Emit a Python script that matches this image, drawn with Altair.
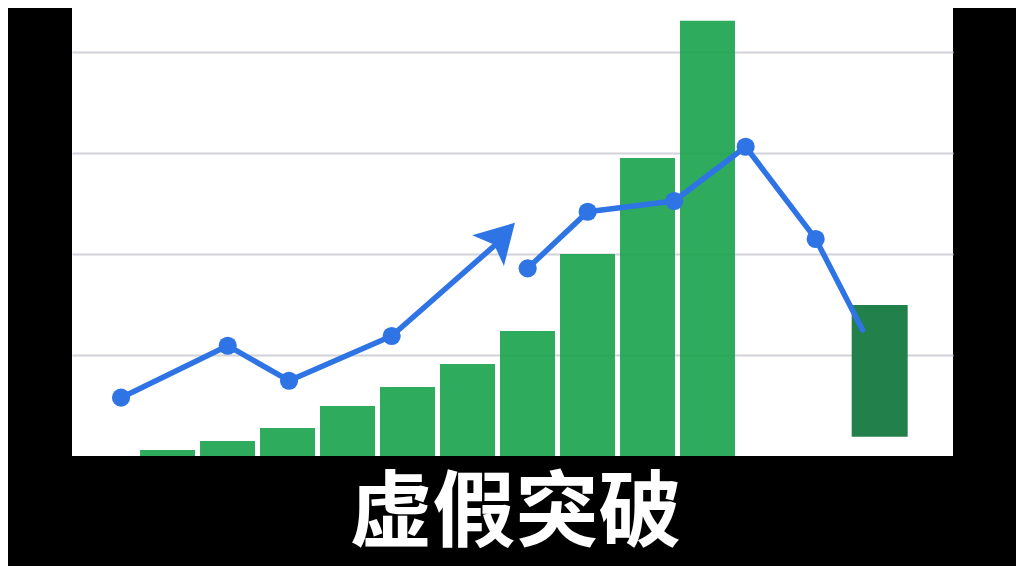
import altair as alt
import pandas as pd

# ---- data ----
bar_x = [1, 2, 3, 4, 5, 6, 7, 8, 9, 10]
bar_h = [0.059, 0.149, 0.278, 0.496, 0.684, 0.912, 1.239, 2.002, 2.953, 4.314]

drop_x = [12.87]
drop_lo = [0.191]
drop_hi = [1.497]

line_x = [0.225, 2.003, 3.025, 4.736, 6.65, 7.003, 8.003, 9.446, 10.636, 11.803, 12.586]
line_y = [0.578, 1.093, 0.746, 1.189, 2.19, 1.860, 2.421, 2.527, 3.065, 2.151, 1.249]
line_seg = ["a", "a", "a", "a", "a", "b", "b", "b", "b", "b", "b"]
line_dot = [True, True, True, True, False, True, True, True, True, True, False]

arrow_x = [6.791]
arrow_y = [2.312]

grid_vals = [1, 2, 3, 4]
title_text = "虚假突破"

# ---- styles ----
GREEN = "#18a24d"
DARK_GREEN = "#22814a"
BLUE = "#2f74e4"
ARROW_ANGLE = 44
ARROW_PATH = "M0,0L0.57,1L0,0.78L-0.57,1Z"

bars = pd.DataFrame({"x": bar_x, "h": bar_h})
drop = pd.DataFrame({"x": drop_x, "lo": drop_lo, "hi": drop_hi})
line = pd.DataFrame({"x": line_x, "y": line_y, "seg": line_seg, "dot": line_dot})
arrow = pd.DataFrame({"x": arrow_x, "y": arrow_y})

xs = alt.Scale(domain=[-0.592, 14.092], nice=False, zero=False, padding=0)
ys = alt.Scale(domain=[0, 4.440], nice=False, zero=True, padding=0)

yaxis = alt.Axis(values=grid_vals, grid=True, labels=False, ticks=False,
                 domain=False, title=None, gridColor="#d2d2da", gridWidth=2,
                 minExtent=0, maxExtent=0)

bar_layer = alt.Chart(bars).mark_bar(size=55, color=GREEN, opacity=0.9).encode(
    x=alt.X("x:Q", scale=xs, axis=None),
    y=alt.Y("h:Q", scale=ys, axis=yaxis),
)

drop_layer = alt.Chart(drop).mark_bar(size=56, color=DARK_GREEN).encode(
    x=alt.X("x:Q", scale=xs, axis=None),
    y=alt.Y("lo:Q", scale=ys, axis=yaxis),
    y2="hi:Q",
)

line_layer = alt.Chart(line).mark_line(color=BLUE, strokeWidth=5.5, strokeCap="round",
                                       strokeJoin="round").encode(
    x=alt.X("x:Q", scale=xs, axis=None),
    y=alt.Y("y:Q", scale=ys, axis=yaxis),
    detail="seg:N",
)

dot_layer = alt.Chart(line).transform_filter("datum.dot").mark_circle(
    color=BLUE, size=330, opacity=1).encode(
    x=alt.X("x:Q", scale=xs, axis=None),
    y=alt.Y("y:Q", scale=ys, axis=yaxis),
)

arrow_layer = alt.Chart(arrow).mark_point(
    shape=ARROW_PATH, filled=True, color=BLUE, opacity=1,
    size=6000, angle=ARROW_ANGLE, strokeWidth=0).encode(
    x=alt.X("x:Q", scale=xs, axis=None),
    y=alt.Y("y:Q", scale=ys, axis=yaxis),
)

chart = alt.layer(bar_layer, drop_layer, line_layer, dot_layer, arrow_layer).properties(
    width=881,
    height=448,
    background="black",
    padding={"left": 64, "top": 0, "right": 63, "bottom": 9},
    title=alt.TitleParams(
        text=title_text, orient="bottom", anchor="middle", fontSize=83,
        font="Noto Sans CJK SC", fontWeight="bold", color="white",
        offset=18, baseline="top", dx=3,
    ),
).configure_view(fill="white", stroke=None)

chart.save("out.html", embed_options={"renderer": "svg", "actions": False})
